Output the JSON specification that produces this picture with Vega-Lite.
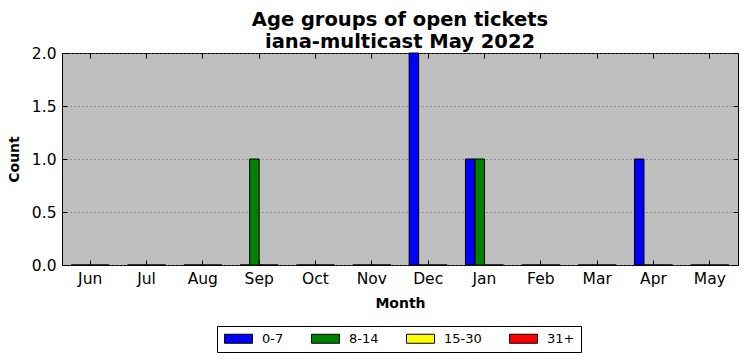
{
  "$schema": "https://vega.github.io/schema/vega-lite/v6.json",
  "width": 676,
  "height": 212,
  "autosize": {"type": "none"},
  "padding": {"left": 62, "top": 53, "right": 9, "bottom": 96},
  "background": "white",
  "title": {
    "text": ["Age groups of open tickets", "iana-multicast May 2022"],
    "font": "DejaVu Sans",
    "fontSize": 19.5,
    "fontWeight": "bold",
    "color": "#000",
    "anchor": "middle",
    "offset": -6,
    "lineHeight": 22
  },
  "config": {
    "font": "DejaVu Sans",
    "view": {"fill": "#bfbfbf", "stroke": "#000", "strokeWidth": 1},
    "axis": {
      "labelFont": "DejaVu Sans",
      "labelColor": "#000",
      "titleColor": "#000",
      "tickColor": "#000",
      "domain": false
    }
  },
  "data": {
    "values": [
      {"month": "Jun", "group": "0-7", "count": 0}, {"month": "Jun", "group": "8-14", "count": 0}, {"month": "Jun", "group": "15-30", "count": 0}, {"month": "Jun", "group": "31+", "count": 0},
      {"month": "Jul", "group": "0-7", "count": 0}, {"month": "Jul", "group": "8-14", "count": 0}, {"month": "Jul", "group": "15-30", "count": 0}, {"month": "Jul", "group": "31+", "count": 0},
      {"month": "Aug", "group": "0-7", "count": 0}, {"month": "Aug", "group": "8-14", "count": 0}, {"month": "Aug", "group": "15-30", "count": 0}, {"month": "Aug", "group": "31+", "count": 0},
      {"month": "Sep", "group": "0-7", "count": 0}, {"month": "Sep", "group": "8-14", "count": 1}, {"month": "Sep", "group": "15-30", "count": 0}, {"month": "Sep", "group": "31+", "count": 0},
      {"month": "Oct", "group": "0-7", "count": 0}, {"month": "Oct", "group": "8-14", "count": 0}, {"month": "Oct", "group": "15-30", "count": 0}, {"month": "Oct", "group": "31+", "count": 0},
      {"month": "Nov", "group": "0-7", "count": 0}, {"month": "Nov", "group": "8-14", "count": 0}, {"month": "Nov", "group": "15-30", "count": 0}, {"month": "Nov", "group": "31+", "count": 0},
      {"month": "Dec", "group": "0-7", "count": 2}, {"month": "Dec", "group": "8-14", "count": 0}, {"month": "Dec", "group": "15-30", "count": 0}, {"month": "Dec", "group": "31+", "count": 0},
      {"month": "Jan", "group": "0-7", "count": 1}, {"month": "Jan", "group": "8-14", "count": 1}, {"month": "Jan", "group": "15-30", "count": 0}, {"month": "Jan", "group": "31+", "count": 0},
      {"month": "Feb", "group": "0-7", "count": 0}, {"month": "Feb", "group": "8-14", "count": 0}, {"month": "Feb", "group": "15-30", "count": 0}, {"month": "Feb", "group": "31+", "count": 0},
      {"month": "Mar", "group": "0-7", "count": 0}, {"month": "Mar", "group": "8-14", "count": 0}, {"month": "Mar", "group": "15-30", "count": 0}, {"month": "Mar", "group": "31+", "count": 0},
      {"month": "Apr", "group": "0-7", "count": 1}, {"month": "Apr", "group": "8-14", "count": 0}, {"month": "Apr", "group": "15-30", "count": 0}, {"month": "Apr", "group": "31+", "count": 0},
      {"month": "May", "group": "0-7", "count": 0}, {"month": "May", "group": "8-14", "count": 0}, {"month": "May", "group": "15-30", "count": 0}, {"month": "May", "group": "31+", "count": 0}
    ]
  },
  "layer": [
    {
      "mark": {"type": "bar", "stroke": "#000", "strokeWidth": 1},
      "encoding": {
        "x": {
          "field": "month",
          "type": "nominal",
          "sort": ["Jun", "Jul", "Aug", "Sep", "Oct", "Nov", "Dec", "Jan", "Feb", "Mar", "Apr", "May"],
          "scale": {"paddingInner": 0, "paddingOuter": 0},
          "axis": {
            "orient": "bottom",
            "title": "Month",
            "titleFontSize": 14,
            "titleFontWeight": "bold",
            "titlePadding": 10,
            "labelFontSize": 15.5,
            "labelAngle": 0,
            "tickSize": -5,
            "labelPadding": 11,
            "grid": false
          }
        },
        "xOffset": {
          "field": "group",
          "type": "nominal",
          "sort": ["0-7", "8-14", "15-30", "31+"],
          "scale": {"paddingInner": 0, "paddingOuter": 0.96}
        },
        "y": {
          "field": "count",
          "type": "quantitative",
          "scale": {"domain": [0, 2], "nice": false},
          "axis": {
            "orient": "left",
            "title": "Count",
            "titleFontSize": 14,
            "titleFontWeight": "bold",
            "titlePadding": 10,
            "labelFontSize": 15.5,
            "format": ".1f",
            "values": [0, 0.5, 1, 1.5, 2],
            "tickSize": -5,
            "labelPadding": 11,
            "grid": true,
            "gridColor": "#666",
            "gridDash": [1, 3],
            "gridWidth": 1
          }
        },
        "color": {
          "field": "group",
          "type": "nominal",
          "sort": ["0-7", "8-14", "15-30", "31+"],
          "scale": {"domain": ["0-7", "8-14", "15-30", "31+"], "range": ["#0000ff", "#008000", "#ffff00", "#ff0000"]},
          "legend": {
            "title": null,
            "orient": "none",
            "legendX": 155,
            "legendY": 273,
            "direction": "horizontal",
            "strokeColor": "#000",
            "fillColor": "#fff",
            "padding": 6,
            "labelFont": "DejaVu Sans",
            "labelFontSize": 13,
            "labelColor": "#000",
            "labelOffset": 26,
            "columnPadding": 25,
            "symbolType": "M-1,-0.9H4.6V0.9H-1Z",
            "symbolSize": 100,
            "symbolStrokeColor": "#000",
            "symbolStrokeWidth": 1,
            "symbolOpacity": 1
          }
        }
      }
    },
    {
      "mark": {"type": "bar", "opacity": 0},
      "encoding": {
        "x": {
          "field": "month",
          "type": "nominal",
          "sort": ["Jun", "Jul", "Aug", "Sep", "Oct", "Nov", "Dec", "Jan", "Feb", "Mar", "Apr", "May"],
          "axis": {"orient": "top", "labels": false, "title": null, "tickSize": -5, "grid": false}
        },
        "y": {
          "field": "count",
          "type": "quantitative",
          "axis": {"orient": "right", "labels": false, "title": null, "tickSize": -5, "values": [0, 0.5, 1, 1.5, 2], "grid": false}
        }
      }
    }
  ],
  "resolve": {"axis": {"x": "independent", "y": "independent"}}
}
